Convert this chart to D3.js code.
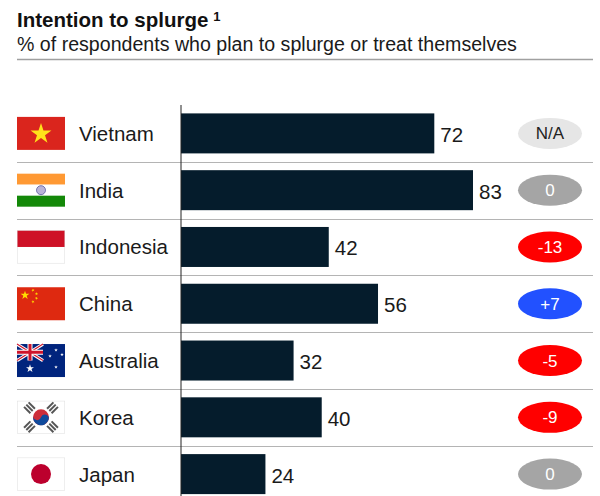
<!DOCTYPE html>
<html><head><meta charset="utf-8">
<script src="https://cdn.jsdelivr.net/npm/d3@7/dist/d3.min.js"></script>
<style>html,body{margin:0;padding:0;background:#fff;overflow:hidden}svg{display:block}text{font-family:"Liberation Sans",Arial,sans-serif}</style>
</head><body><svg id="c" width="600" height="496"></svg>
<script>
const countries=["Vietnam","India","Indonesia","China","Australia","Korea","Japan"];
const values=[72,83,42,56,32,40,24];
const changes=["N/A","0","-13","+7","-5","-9","0"];
const title="Intention to splurge";
const subtitle="% of respondents who plan to splurge or treat themselves";

const svg=d3.select("#c");
const x=d3.scaleLinear().domain([0,83]).range([181,473]);
const y=d3.scaleBand().domain(countries).range([105,502.5]).paddingInner(0).paddingOuter(0);
const barH=40;
const cy=d=>y(d)+y.bandwidth()/2+8.2-8.2;

const t=svg.append("text").attr("x",17).attr("y",26.5).attr("font-size",20.5).attr("font-weight",700).attr("fill","#111");
t.append("tspan").text(title);
t.append("tspan").attr("dx",5).attr("dy",-6).attr("font-size",13).text("1");
svg.append("text").attr("x",17).attr("y",51).attr("font-size",19.6).attr("fill","#1a1a1a").text(subtitle);
svg.append("line").attr("x1",17).attr("x2",593).attr("y1",59.5).attr("y2",59.5).attr("stroke","#a0a0a0").attr("stroke-width",1.5);

// separators
svg.append("g").selectAll("line").data(countries.slice(1)).join("line")
 .attr("x1",17).attr("x2",593).attr("y1",d=>Math.round(y(d))+.5).attr("y2",d=>Math.round(y(d))+.5)
 .attr("stroke","#b4b4b4").attr("stroke-width",1);

// bars
svg.append("g").selectAll("rect").data(countries).join("rect")
 .attr("x",x(0)).attr("width",(d,i)=>x(values[i])-x(0))
 .attr("y",d=>cy(d)-barH/2).attr("height",barH).attr("fill","#051c2c");
// axis line
svg.append("line").attr("x1",181).attr("x2",181).attr("y1",105).attr("y2",496).attr("stroke","#222").attr("stroke-width",1);

// country labels
svg.append("g").selectAll("text").data(countries).join("text")
 .attr("x",79).attr("y",d=>cy(d)+7.5).attr("font-size",20.5).attr("fill","#1a1a1a").text(d=>d);
// value labels
svg.append("g").selectAll("text").data(countries).join("text")
 .attr("x",(d,i)=>x(values[i])+6).attr("y",d=>cy(d)+8.5).attr("font-size",20.5).attr("fill","#1a1a1a").text((d,i)=>values[i]);

// pills
const pillFill=c=>c==="N/A"?"#e6e6e6":c==="0"?"#a5a5a5":c[0]==="+"?"#2251ff":"#ff0000";
const pill=svg.append("g").selectAll("g").data(countries).join("g").attr("transform",d=>`translate(550,${cy(d)})`);
pill.append("ellipse").attr("rx",32).attr("ry",15.5).attr("fill",(d,i)=>pillFill(changes[i]));
pill.append("text").attr("text-anchor","middle").attr("y",6).attr("font-size",17)
 .attr("fill",(d,i)=>changes[i]==="N/A"?"#222":"#fff").text((d,i)=>changes[i]);

// flags (48x33)
const W=48,H=33;
const star=(g,cx,cy,r,fill,rot=0)=>{
 const p=[];for(let i=0;i<10;i++){const a=-Math.PI/2+rot+i*Math.PI/5,q=i%2?r*.382:r;p.push([cx+q*Math.cos(a),cy+q*Math.sin(a)]);}
 g.append("polygon").attr("points",p.map(a=>a.map(v=>v.toFixed(2)).join(",")).join(" ")).attr("fill",fill);
};
const rect=(g,a,b,w,h,f)=>g.append("rect").attr("x",a).attr("y",b).attr("width",w).attr("height",h).attr("fill",f);
const draw={
 Vietnam(g){rect(g,0,0,W,H,"#da251d");star(g,24,17,11,"#ffe11a");},
 India(g){rect(g,0,0,W,11,"#ff9933");rect(g,0,11,W,11,"#fff");rect(g,0,22,W,11,"#138808");
  g.append("circle").attr("cx",24).attr("cy",16.5).attr("r",4.5).attr("fill","#b9b3d8").attr("stroke","#5a5aa0").attr("stroke-width",.8);},
 Indonesia(g){rect(g,0,0,W,H,"#fff");rect(g,0,0,W,16.5,"#ce1126");g.append("rect").attr("x",.25).attr("y",.25).attr("width",W-.5).attr("height",H-.5).attr("fill","none").attr("stroke","#ddd").attr("stroke-width",.5);},
 China(g){rect(g,0,0,W,H,"#de2910");star(g,8,8,4.6,"#ffde00");
  [[16,3,.9],[19.5,6.5,1.2],[19.5,11,.4],[16,14.5,.9]].forEach(s=>star(g,s[0],s[1],1.7,"#ffde00",s[2]));},
 Australia(g){rect(g,0,0,W,H,"#00247d");
  const f=g.append("g");
  f.append("path").attr("d","M0 0L26 16.5M26 0L0 16.5").attr("stroke","#fff").attr("stroke-width",3.2);
  f.append("path").attr("d","M0 0L26 16.5M26 0L0 16.5").attr("stroke","#cf142b").attr("stroke-width",1.1);
  f.append("path").attr("d","M13 0V16.5M0 8.25H26").attr("stroke","#fff").attr("stroke-width",5);
  f.append("path").attr("d","M13 0V16.5M0 8.25H26").attr("stroke","#cf142b").attr("stroke-width",3);
  star(g,13,24.5,4.2,"#fff");
  [[39,6,1.9],[33,12,1.9],[45,10.5,1.9],[39,23,1.9]].forEach(s=>star(g,s[0],s[1],s[2],"#fff"));},
 Korea(g){rect(g,0,0,W,H,"#fff");
  g.append("rect").attr("x",.25).attr("y",.25).attr("width",W-.5).attr("height",H-.5).attr("fill","none").attr("stroke","#ddd").attr("stroke-width",.5);
  g.append("circle").attr("cx",24).attr("cy",16.5).attr("r",8).attr("fill","#cd2e3a");
  g.append("path").attr("d","M16.4 14 A8 8 0 0 0 31.6 19 A4 4 0 0 0 24 16.5 A4 4 0 0 1 16.4 14Z").attr("fill","#0f4a9c");
  [[12.5,7,45],[35.5,7,-45],[12.5,26,-45],[35.5,26,45]].forEach(s=>{
   const b=g.append("g").attr("transform",`translate(${s[0]},${s[1]}) rotate(${s[2]})`);
   [-3.2,0,3.2].forEach(o=>rect(b,-4.5,o-1,9,2,"#555"));
  });},
 Japan(g){rect(g,0,0,W,H,"#fff");
  g.append("rect").attr("x",.25).attr("y",.25).attr("width",W-.5).attr("height",H-.5).attr("fill","none").attr("stroke","#ddd").attr("stroke-width",.5);
  g.append("circle").attr("cx",24).attr("cy",16.5).attr("r",10).attr("fill","#bc002d");}
};
svg.append("g").selectAll("g").data(countries).join("g")
 .attr("transform",d=>`translate(17,${cy(d)-16.5})`).each(function(d){draw[d](d3.select(this));});
</script></body></html>
